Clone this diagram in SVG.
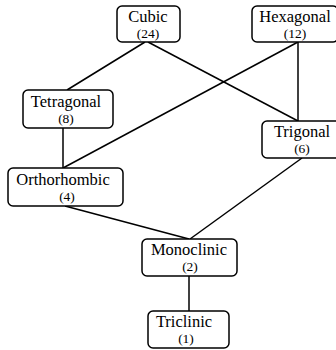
<svg xmlns="http://www.w3.org/2000/svg" width="336" height="350" viewBox="0 0 336 350">
<style>
.box{fill:#fff;stroke:#000;stroke-width:1.5}
.n{font-family:"Liberation Serif","Times New Roman",serif;font-size:16.5px;text-anchor:middle;fill:#000}
.c{font-family:"Liberation Serif","Times New Roman",serif;font-size:13.5px;text-anchor:middle;fill:#000}
.e{stroke:#000;stroke-width:1.5;fill:none}
</style>
<rect width="336" height="350" fill="#fff"/>
<g id="connectors">
<line class="e" x1="145" y1="42" x2="67" y2="90"/>
<line class="e" x1="148" y1="42" x2="298" y2="121"/>
<line class="e" x1="298" y1="42" x2="63" y2="168"/>
<line class="e" x1="298" y1="42" x2="298" y2="121"/>
<line class="e" x1="63" y1="128" x2="63" y2="168"/>
<line class="e" x1="65" y1="206" x2="189" y2="239"/>
<line class="e" x1="302" y1="158" x2="190" y2="239"/>
<line class="e" x1="189" y1="276" x2="189" y2="311"/>
</g>
<g id="cubic">
<rect class="box" x="117" y="6" width="63" height="36" rx="5"/>
<text class="n" x="148" y="22">Cubic</text>
<text class="c" x="148" y="38">(24)</text>
</g>
<g id="hexagonal">
<rect class="box" x="252" y="6" width="86" height="36" rx="5"/>
<text class="n" x="295" y="22">Hexagonal</text>
<text class="c" x="295" y="38">(12)</text>
</g>
<g id="tetragonal">
<rect class="box" x="23" y="90" width="90" height="38" rx="5"/>
<text class="n" x="66" y="107">Tetragonal</text>
<text class="c" x="66" y="123">(8)</text>
</g>
<g id="trigonal">
<rect class="box" x="262" y="121" width="80" height="37" rx="5"/>
<text class="n" x="302" y="137">Trigonal</text>
<text class="c" x="302" y="153">(6)</text>
</g>
<g id="orthorhombic">
<rect class="box" x="8" y="168" width="115" height="38" rx="5"/>
<text class="n" x="63" y="185">Orthorhombic</text>
<text class="c" x="67" y="201">(4)</text>
</g>
<g id="monoclinic">
<rect class="box" x="142" y="239" width="95" height="37" rx="5"/>
<text class="n" x="189" y="255">Monoclinic</text>
<text class="c" x="190" y="271">(2)</text>
</g>
<g id="triclinic">
<rect class="box" x="148" y="311" width="81" height="37" rx="5"/>
<text class="n" x="184" y="327">Triclinic</text>
<text class="c" x="186" y="343">(1)</text>
</g>
</svg>
